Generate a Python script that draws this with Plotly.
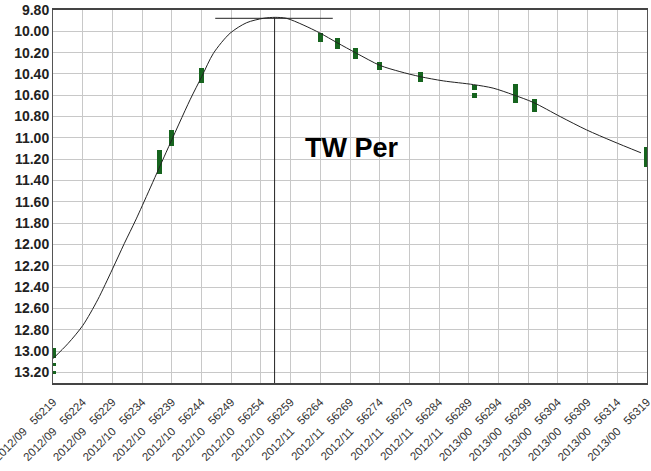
import plotly.graph_objects as go

# Fitted light curve (MJD, magnitude)
curve_x = [56219.0, 56221.5, 56224.0, 56226.5, 56229.0, 56231.0, 56233.0, 56238.0, 56242.06,
           56244.03, 56246.0, 56248.8, 56251.6, 56254.4, 56256.4, 56258.3, 56261.1, 56264.0,
           56266.8, 56270.1, 56274.05, 56277.4, 56280.8, 56284.7, 56289.8, 56293.1,
           56296.5, 56299.9, 56304.4, 56308.8, 56313.3, 56318.0]
curve_y = [13.07, 12.93, 12.76, 12.52, 12.23, 11.99, 11.76, 11.14, 10.643,
           10.425, 10.206, 10.018, 9.919, 9.878, 9.869, 9.878, 9.94, 10.018,
           10.106, 10.206, 10.32, 10.378, 10.425, 10.465, 10.50, 10.533,
           10.596, 10.668, 10.80, 10.924, 11.033, 11.14]

# Observations: magnitude ranges
obs_x = [56219.0, 56219.0, 56219.0, 56236.9, 56238.9, 56244.0, 56264.0, 56266.9,
         56270.0, 56273.9, 56280.9, 56289.9, 56289.9, 56296.9, 56300.0, 56318.9]
obs_lo = [12.975, 13.11, 13.19, 11.11, 10.93, 10.34, 10.02, 10.065,
          10.16, 10.29, 10.38, 10.50, 10.58, 10.495, 10.635, 11.09]
obs_hi = [13.07, 13.14, 13.22, 11.335, 11.08, 10.487, 10.097, 10.168,
          10.26, 10.36, 10.48, 10.55, 10.627, 10.675, 10.758, 11.27]

# Maximum markers
max_h_x = [56246.3, 56266.1]
max_h_y = [9.878, 9.878]
max_v_x = [56256.3, 56256.3]
max_v_y = [9.87, 13.3]

# Tick labels
tick_mjd = [56219, 56224, 56229, 56234, 56239, 56244, 56249, 56254, 56259, 56264, 56269,
            56274, 56279, 56284, 56289, 56294, 56299, 56304, 56309, 56314, 56319]
tick_date = ["2012/09", "2012/09", "2012/09", "2012/10", "2012/10", "2012/10", "2012/10",
             "2012/10", "2012/10", "2012/11", "2012/11", "2012/11", "2012/11", "2012/11",
             "2012/11", "2013/00", "2013/00", "2013/00", "2013/00", "2013/00", "2013/00"]
y_ticks = [9.8 + 0.2 * i for i in range(18)]

star_name = "TW Per"

fig = go.Figure()
fig.add_trace(go.Scatter(x=curve_x, y=curve_y, mode="lines",
                         line=dict(color="#222222", width=1, shape="spline", smoothing=0.8),
                         hoverinfo="skip"))
fig.add_trace(go.Bar(x=obs_x, base=obs_lo, y=[h - l for h, l in zip(obs_hi, obs_lo)],
                     width=0.85, marker=dict(color="#16641e", line=dict(width=0))))
fig.add_trace(go.Scatter(x=max_h_x, y=max_h_y, mode="lines",
                         line=dict(color="#222222", width=1)))
fig.add_trace(go.Scatter(x=max_v_x, y=max_v_y, mode="lines",
                         line=dict(color="#222222", width=1)))

fig.add_annotation(x=0.503, y=0.63, xref="paper", yref="paper", text="<b>%s</b>" % star_name,
                   showarrow=False, font=dict(family="Liberation Sans, Arial", size=27, color="#000"))

fig.update_layout(
    width=651, height=471,
    margin=dict(l=53, r=4, t=10, b=88),
    paper_bgcolor="white", plot_bgcolor="white",
    showlegend=False, bargap=0,
    font=dict(family="Liberation Sans, Arial", color="#222"),
)
sp = "\u00a0"
fig.update_xaxes(range=[56218.98, 56319.02], tickvals=tick_mjd,
                 ticktext=["%s%s%d" % (d, sp * 3, m) for d, m in zip(tick_date, tick_mjd)],
                 tickangle=-45, tickfont=dict(size=11.5, color="#333"),
                 ticklabeloverflow="allow", ticklabelstandoff=6,
                 showgrid=True, gridcolor="#c8c8c8", gridwidth=1,
                 showline=True, mirror=True, linecolor="#444", linewidth=1.5,
                 zeroline=False, ticks="", automargin=False)
fig.update_yaxes(range=[13.3, 9.8], tickvals=y_ticks, tickformat=".2f",
                 tickfont=dict(size=14, color="#222", family="Liberation Sans, Arial", weight="bold"),
                 showgrid=True, gridcolor="#c8c8c8", gridwidth=1,
                 showline=True, mirror=True, linecolor="#555", linewidth=1,
                 zeroline=False, ticks="", automargin=False)

fig.write_html("out.html", config={"displayModeBar": False},
               post_script="document.body.style.margin='0';document.body.style.overflow='hidden';")
